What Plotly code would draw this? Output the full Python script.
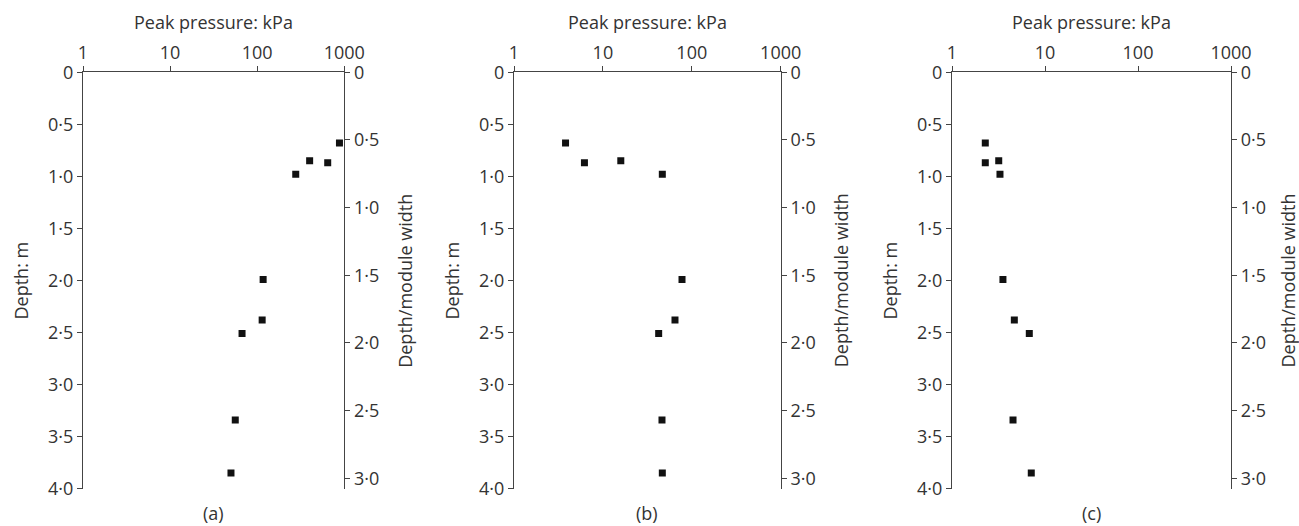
import plotly.graph_objects as go

# Data
depth_a = [0.68, 0.85, 0.87, 0.98, 1.99, 2.38, 2.51, 3.34, 3.85]
pressure_a = [880, 400, 645, 277, 117, 114, 67, 56, 50]

depth_b = [0.68, 0.85, 0.87, 0.98, 1.99, 2.38, 2.51, 3.34, 3.85]
pressure_b = [3.8, 15.9, 6.2, 46.6, 77.6, 64.7, 42.4, 46.2, 46.6]

depth_c = [0.68, 0.85, 0.87, 0.98, 1.99, 2.38, 2.51, 3.34, 3.85]
pressure_c = [2.28, 3.18, 2.28, 3.28, 3.53, 4.68, 6.78, 4.53, 7.12]

module_width = 1.3  # m
panel_labels = ["(a)", "(b)", "(c)"]

x_tickvals = [1, 10, 100, 1000]
x_ticktext = ["1", "10", "100", "1000"]
y_tickvals = [0, 0.5, 1.0, 1.5, 2.0, 2.5, 3.0, 3.5, 4.0]
y_ticktext = ["0", "0·5", "1·0", "1·5", "2·0", "2·5", "3·0", "3·5", "4·0"]
y2_tickvals = [0, 0.5, 1.0, 1.5, 2.0, 2.5, 3.0]
y2_ticktext = ["0", "0·5", "1·0", "1·5", "2·0", "2·5", "3·0"]

W, H = 1299, 526
FONT = "Open Sans"
TXT = "#333333"
LINE = "#444444"
FS = 18

panels = [
    (depth_a, pressure_a, (83.0, 344.3), 60),
    (depth_b, pressure_b, (514.0, 780.7), 60),
    (depth_c, pressure_c, (952.0, 1231.0), 56),
]
top_px, bot_px = 72.3, 488.7
ydom = [1 - bot_px / H, 1 - top_px / H]

fig = go.Figure()
annotations = []
for i, (d, p, (x0, x1), rgap) in enumerate(panels):
    n = i + 1
    xa = "x" if n == 1 else f"x{n}"
    ya = "y" if n == 1 else f"y{2*n-1}"
    ya2 = f"y{2*n}"
    fig.add_trace(go.Scatter(x=p, y=d, mode="markers", xaxis=xa, yaxis=ya,
                             marker=dict(symbol="square", size=7, color="#111111"),
                             showlegend=False, hoverinfo="skip"))
    # invisible trace for the secondary depth/module width axis
    fig.add_trace(go.Scatter(x=p, y=[v / module_width for v in d], mode="markers",
                             xaxis=xa, yaxis=ya2, marker=dict(size=1, opacity=0),
                             showlegend=False, hoverinfo="skip"))
    xk = "xaxis" if n == 1 else f"xaxis{n}"
    yk = "yaxis" if n == 1 else f"yaxis{2*n-1}"
    y2k = f"yaxis{2*n}"
    common = dict(showgrid=False, zeroline=False, showline=True, linecolor=LINE,
                  linewidth=1.2, ticks="outside", ticklen=5, tickcolor=LINE,
                  automargin=False,
                  tickfont=dict(family=FONT, size=FS, color=TXT))
    fig.layout[xk] = dict(type="log", range=[0, 3], domain=[x0 / W, x1 / W],
                          side="top", anchor=ya, tickvals=x_tickvals,
                          ticktext=x_ticktext, **common)
    fig.layout[yk] = dict(range=[4, 0], domain=ydom, anchor=xa, side="left",
                          tickvals=y_tickvals, ticktext=y_ticktext, **common)
    fig.layout[y2k] = dict(range=[4 / module_width, 0], overlaying=ya, anchor=xa,
                           side="right", tickvals=y2_tickvals, ticktext=y2_ticktext,
                           **common)
    xc = (x0 + x1) / 2 / W
    ann = dict(xref="paper", yref="paper", showarrow=False, xanchor="center",
               yanchor="middle", font=dict(family=FONT, size=FS, color=TXT))
    annotations.append(dict(text="Peak pressure: kPa", x=xc, y=1 - 22 / H, **ann))
    annotations.append(dict(text=panel_labels[i], x=xc, y=1 - 513 / H, **ann))
    annotations.append(dict(text="Depth: m", x=(x0 - 63) / W, y=1 - 280.5 / H,
                            textangle=-90, **ann))
    annotations.append(dict(text="Depth/module width", x=(x1 + rgap) / W, y=1 - 280.5 / H,
                            textangle=-90, **ann))

fig.update_layout(width=W, height=H, margin=dict(l=0, r=0, t=0, b=0),
                  plot_bgcolor="white", paper_bgcolor="white",
                  annotations=annotations)
fig.write_html("out.html", config={"displayModeBar": False},
               post_script="document.body.style.margin='0';document.body.style.overflow='hidden';")
